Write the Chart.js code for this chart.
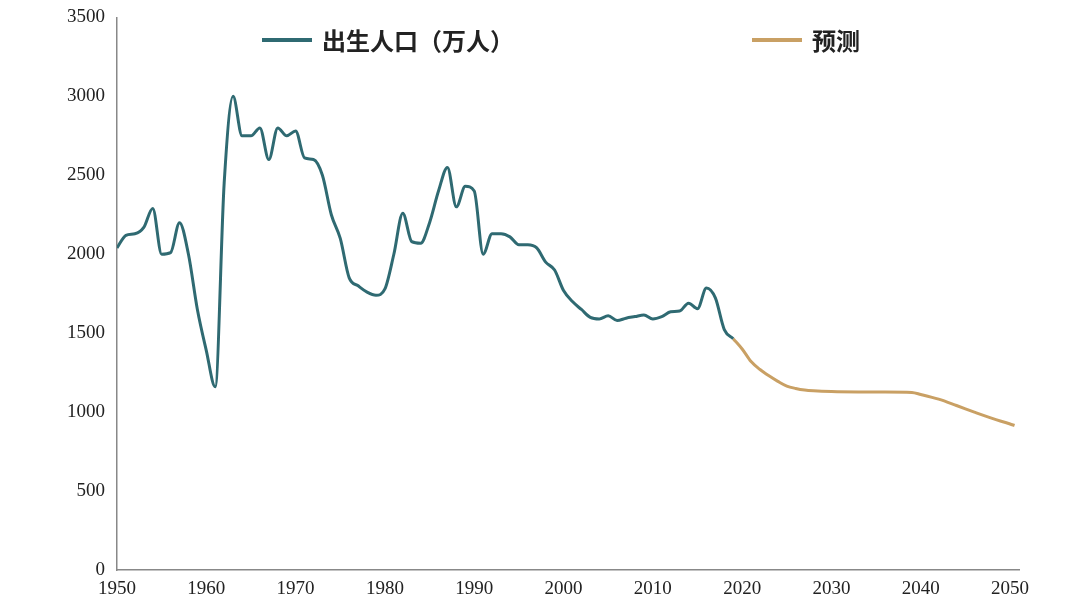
<!DOCTYPE html>
<html><head><meta charset="utf-8">
<script src="https://cdn.jsdelivr.net/npm/chart.js@4"></script>
<style>
html,body{margin:0;padding:0;background:#fff;}
#wrap{position:relative;width:1080px;height:613px;}
.lg{position:absolute;top:22px;font:bold 24px "Noto Sans CJK SC";color:#222;display:flex;align-items:center;}
.lg span{display:inline-block;width:50px;height:4px;margin-right:10px;}
</style></head><body>
<div id="wrap"><canvas id="c" width="1080" height="613"></canvas>
<div class="lg" style="left:262px"><span style="background:#2f6a72"></span>出生人口（万人）</div>
<div class="lg" style="left:752px"><span style="background:#c9a064"></span>预测</div>
</div>
<script>
const histYears=[1950,1951,1952,1953,1954,1955,1956,1957,1958,1959,1960,1961,1962,1963,1964,1965,1966,1967,1968,1969,1970,1971,1972,1973,1974,1975,1976,1977,1978,1979,1980,1981,1982,1983,1984,1985,1986,1987,1988,1989,1990,1991,1992,1993,1994,1995,1996,1997,1998,1999,2000,2001,2002,2003,2004,2005,2006,2007,2008,2009,2010,2011,2012,2013,2014,2015,2016,2017,2018,2019];
const histBirths=[2040,2120,2130,2170,2290,2000,2010,2200,2000,1650,1390,1160,2450,3000,2750,2750,2800,2600,2800,2750,2780,2610,2600,2500,2250,2100,1850,1800,1760,1740,1780,2000,2260,2080,2070,2200,2400,2550,2300,2430,2400,2000,2130,2130,2110,2060,2060,2040,1950,1900,1770,1700,1650,1600,1590,1610,1580,1595,1605,1615,1590,1605,1635,1640,1690,1655,1786,1723,1523,1465];
const foreYears=[2019,2020,2021,2022,2023,2024,2025,2026,2027,2028,2030,2033,2036,2039,2040,2042,2044,2046,2048,2050,2050.5];
const foreBirths=[1465,1400,1320,1270,1230,1195,1165,1150,1140,1135,1130,1128,1128,1125,1112,1082,1042,1000,960,925,915];
const xTicks=[1950,1960,1970,1980,1990,2000,2010,2020,2030,2040,2050];
const font={family:"Liberation Serif",size:19};
new Chart(document.getElementById('c'),{type:'line',
data:{datasets:[
{data:histYears.map((x,i)=>({x,y:histBirths[i]})),borderColor:'#2f6a72',borderWidth:3,pointRadius:0,cubicInterpolationMode:'monotone'},
{data:foreYears.map((x,i)=>({x,y:foreBirths[i]})),borderColor:'#c9a064',borderWidth:3,pointRadius:0,cubicInterpolationMode:'monotone'}]},
options:{responsive:false,animation:false,events:[],layout:{padding:{top:15,right:61,bottom:0,left:0}},
plugins:{legend:{display:false},tooltip:{enabled:false}},
scales:{
x:{type:'linear',min:1950,max:2051,afterBuildTicks:a=>{a.ticks=xTicks.map(v=>({value:v}));},
afterFit:s=>{s.height=43;},grid:{display:false,drawTicks:true,tickLength:6},border:{color:'#888',width:1.5},
ticks:{font,color:'#222',maxRotation:0,autoSkip:false,padding:2,callback:v=>String(v)}},
y:{min:0,max:3500,afterFit:s=>{s.width=117;},grid:{display:false,tickLength:6},border:{color:'#888',width:1.5},
ticks:{stepSize:500,font,color:'#222',padding:6,callback:v=>String(v)}}}}});
</script></body></html>
